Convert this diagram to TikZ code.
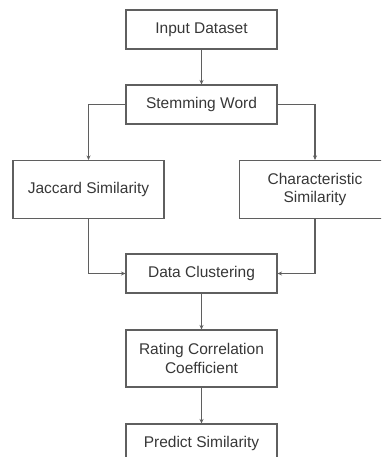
\documentclass[tikz,border=0pt]{standalone}
\usepackage{fontspec}
\setmainfont{Liberation Sans}
\usetikzlibrary{arrows.meta}
\definecolor{linegray}{RGB}{95,95,95}
\definecolor{txtgray}{RGB}{55,55,55}
\begin{document}
\begin{tikzpicture}[x=1pt,y=-1pt,
		blk/.style={draw=linegray,line width=1.1pt,minimum width=151pt,inner sep=0pt,
			align=center,text=txtgray,font=\fontsize{15.5}{18.5}\selectfont},
		>={Stealth[length=4.5pt,width=4pt]}]
		\useasboundingbox (0,0) rectangle (381,457);
		\begin{scope}
		\clip (0,0) rectangle (381,457);
		\node[blk,minimum height=39pt] (input) at (201.5,29.5)  {Input Dataset};
		\node[blk,minimum height=39pt] (stem)  at (201.5,104.5) {Stemming Word};
		\node[blk,minimum height=58pt] (jac)   at (88.5,189.5)  {Jaccard Similarity};
		\node[blk,minimum height=58pt] (char)  at (315,189.5)   {Characteristic\\Similarity};
		\node[blk,minimum height=39pt] (clus)  at (201.5,273.5) {Data Clustering};
		\node[blk,minimum height=57pt] (rate)  at (201.5,358.5) {Rating Correlation\\Coefficient};
		\node[blk,minimum height=39pt] (pred)  at (201.5,443.5) {Predict Similarity};

		\draw[->,draw=linegray,line width=1.1pt] (input) to (stem);
		\draw[->,draw=linegray,line width=1.1pt] (stem.west) -| (jac.north);
		\draw[->,draw=linegray,line width=1.1pt] (stem.east) -| (char.north);
		\draw[->,draw=linegray,line width=1.1pt] (jac.south) |- (clus.west);
		\draw[->,draw=linegray,line width=1.1pt] (char.south) |- (clus.east);
		\draw[->,draw=linegray,line width=1.1pt] (clus) to (rate);
		\draw[->,draw=linegray,line width=1.1pt] (rate) to (pred);
		\end{scope}
	\end{tikzpicture}
\end{document}
